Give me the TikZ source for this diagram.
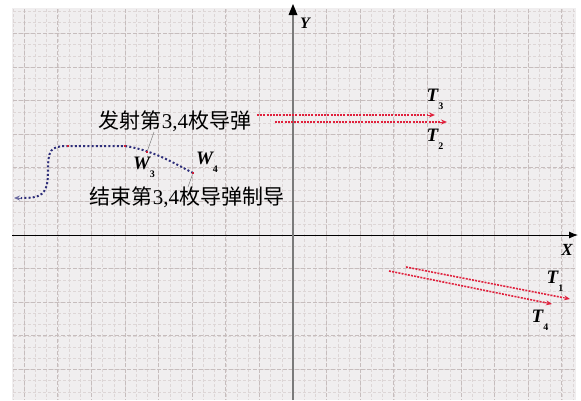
\documentclass[tikz,border=0pt]{standalone}
\usepackage{fontspec}
\setmainfont{Liberation Serif}
\newfontfamily\cjk{Noto Sans CJK SC}
\usetikzlibrary{arrows.meta}
\definecolor{plotbg}{HTML}{F0EEEF}
\definecolor{gminor}{HTML}{DDD6D6}
\definecolor{gmajor}{HTML}{C6BDBD}
\definecolor{trk}{HTML}{E0203C}
\definecolor{navytrk}{HTML}{2E2E7A}
\definecolor{axgray}{HTML}{7A7A7A}
\tikzset{
  minorgrid/.style={gminor, line width=0.6pt, dash pattern=on 3pt off 2pt},
  majorgrid/.style={gmajor, line width=0.8pt, dash pattern=on 4pt off 2pt},
  redtrack/.style={trk, line width=1.6pt, dash pattern=on 2pt off 1.2pt},
  redtip/.style={trk, line width=1pt, solid, -{Stealth[length=6pt,width=5pt,open]}},
  bluetrack/.style={navytrk, line width=2pt, dash pattern=on 2pt off 2.2pt},
  bluetip/.style={navytrk!70!white, line width=1pt, solid, -{Stealth[length=6pt,width=5pt]}},
  leader/.style={gray, line width=0.5pt},
  reddot/.style={fill=trk!90!black, minimum size=2.8pt, inner sep=0pt, rectangle},
  lbl/.style={inner sep=0pt, font=\fontsize{19}{19}\selectfont\bfseries\itshape},
  cn/.style={inner sep=0pt, font=\fontsize{21}{21}\selectfont},
}
\newcommand{\sbx}[1]{\raisebox{-8pt}{\fontsize{10}{10}\selectfont\upshape #1}}
\begin{document}
\begin{tikzpicture}[x=1pt,y=-1pt]
\useasboundingbox (0,0) rectangle (581,400);
\fill[white] (0,0) rectangle (581,400);
\fill[plotbg] (12,8) rectangle (576,400);
% grid
\foreach \i in {-25,...,25} \draw[minorgrid] (293+11.2*\i,9) -- (293+11.2*\i,400);
\foreach \j in {-20,...,14} \draw[minorgrid] (13,235+11.2*\j) -- (575,235+11.2*\j);
\foreach \i in {-24,-21,...,24} \draw[majorgrid] (293+11.2*\i,9) -- (293+11.2*\i,400);
\foreach \j in {-18,-15,...,12} \draw[majorgrid] (13,235+11.2*\j) -- (575,235+11.2*\j);
% axes
\coordinate (ox) at (12,235);
\coordinate (xe) at (578,235);
\coordinate (oy) at (293,400);
\coordinate (ye) at (293,4);
\draw[black, line width=0.9pt, -{Latex[length=9pt,width=7pt]}] (ox) -- (xe);
\draw[axgray, line width=2.6pt] (oy) -- (293,12);
\fill[black] (ye) -- (288.5,15) -- (297.5,15) -- cycle;
\node[lbl, font=\fontsize{16}{16}\selectfont\bfseries\itshape] (ylab) at (305,23) {Y};
\node[lbl, font=\fontsize{17}{17}\selectfont\bfseries\itshape] (xlab) at (567,250) {X};
% red tracks T3, T2
\coordinate (t3s) at (257,115); \coordinate (t3m) at (428,115); \coordinate (t3e) at (435,115);
\coordinate (t2s) at (275,122); \coordinate (t2m) at (440,122); \coordinate (t2e) at (447,122);
\draw[redtrack] (t3s) -- (t3m);
\draw[redtip] (t3m) -- (t3e);
\draw[redtrack] (t2s) -- (t2m);
\draw[redtip] (t2m) -- (t2e);
\node[lbl] (T3) at (435,99) {T\sbx{3}};
\node[lbl] (T2) at (435,139) {T\sbx{2}};
% red tracks T1, T4
\coordinate (t1s) at (406,267); \coordinate (t1m) at (563,297.6); \coordinate (t1e) at (570,299);
\coordinate (t4s) at (389,271); \coordinate (t4m) at (545,302.6); \coordinate (t4e) at (552,304);
\draw[redtrack] (t1s) -- (t1m);
\draw[redtip] (t1m) -- (t1e);
\draw[redtrack] (t4s) -- (t4m);
\draw[redtip] (t4m) -- (t4e);
\node[lbl] (T1) at (555,281) {T\sbx{1}};
\node[lbl] (T4) at (540,320) {T\sbx{4}};
% blue track W
\coordinate (w4) at (193,173);
\coordinate (w3) at (147,152);
\coordinate (wa) at (125,146);
\coordinate (wb) at (68,146);
\coordinate (wm) at (21,198);
\coordinate (wend) at (14,198);
\draw[bluetrack] (w4) .. controls (172,162) and (152,150) .. (wa) -- (wb)
  .. controls (50,146) and (48,150) .. (48,172)
  .. controls (48,196) and (40,198) .. (wm);
\draw[bluetip] (wm) -- (wend);
\node[reddot] (d1) at (wb) {};
\node[reddot] (d2) at (wa) {};
\node[reddot] (d3) at (w3) {};
\node[reddot] (d4) at (w4) {};
\node[lbl] (W3) at (144,167) {W\sbx{3}};
\node[lbl] (W4) at (207,162) {W\sbx{4}};
% annotations
\node[cn] (launch) at (175,121) {{\cjk 发射第}3,4{\cjk 枚导弹}};
\node[cn] (stop) at (187,197) {{\cjk 结束第}3,4{\cjk 枚导弹制导}};
\coordinate (la) at (154,132);
\coordinate (sa) at (188,187);
\draw[leader] (la) -- (d3);
\draw[leader] (d4) -- (sa);
\end{tikzpicture}
\end{document}
